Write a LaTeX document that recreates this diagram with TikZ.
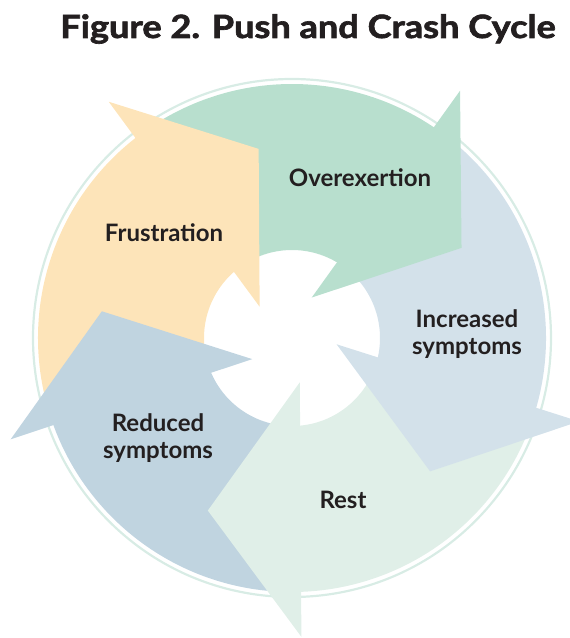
\documentclass[tikz,border=0pt]{standalone}
\usepackage{fontspec}
\setmainfont{Lato}
\newfontfamily\titlefont{Lato}[BoldFeatures={FakeBold=2}]
\definecolor{txt}{HTML}{231F20}
\definecolor{ringcol}{HTML}{D8ECE5}
\definecolor{frustcol}{HTML}{FDE4B9}
\definecolor{overcol}{HTML}{B8DFCE}
\definecolor{incrcol}{HTML}{D3E1EA}
\definecolor{restcol}{HTML}{E0EFE8}
\definecolor{reducol}{HTML}{C0D4E0}
\tikzset{
  label/.style={text=txt, font=\fontsize{24}{26.5}\selectfont\bfseries, align=center, inner sep=0pt},
  titletext/.style={text=txt, font=\titlefont\fontsize{32}{38}\selectfont\bfseries, inner sep=0pt},
}
% band radii; the first arrow's body and head, the others are rotated by 72 degrees
\newcommand{\Rout}{254}
\newcommand{\Rin}{88}
\newcommand{\segment}[2]{% colour, index
  \pgfmathsetmacro{\rot}{-72*#2}
  \pgfmathsetmacro{\aend}{125+\rot}
  \pgfmathsetmacro{\astart}{197+\rot}
  \fill[#1] (\astart:\Rout) arc[start angle=\astart, end angle=\aend, radius=\Rout]
    -- (\aend:\Rin) arc[start angle=\aend, end angle=\astart, radius=\Rin] -- cycle;
}
\newcommand{\arrowhead}[2]{% colour, index
  \pgfmathsetmacro{\rot}{-72*#2}
  \fill[#1] (127.8+\rot:299) -- (100+\rot:192) -- (136+\rot:45) -- cycle;
}
\begin{document}
\begin{tikzpicture}[x=1pt, y=1pt]
\useasboundingbox (0,0) rectangle (570,638);
\node[titletext, anchor=base] (title) at (308,600) {\scalebox{1.13}[1]{Figure 2. Push and Crash Cycle}};
\begin{scope}[shift={(292,300)}]
  \draw[ringcol, line width=2.2pt] (0,0) circle[radius=259];
  \segment{frustcol}{0}
  \segment{overcol}{1}
  \segment{incrcol}{2}
  \segment{restcol}{3}
  \segment{reducol}{4}
  \arrowhead{frustcol}{0}
  \arrowhead{overcol}{1}
  \arrowhead{incrcol}{2}
  \arrowhead{restcol}{3}
  \arrowhead{reducol}{4}
\end{scope}
\node[label] (over) at (360,460) {Overexertion};
\node[label] (frust) at (164,405) {Frustration};
\node[label] (incr) at (467,304) {Increased\\symptoms};
\node[label] (redu) at (158,200) {Reduced\\symptoms};
\node[label] (rest) at (343,138) {Rest};
\end{tikzpicture}
\end{document}
